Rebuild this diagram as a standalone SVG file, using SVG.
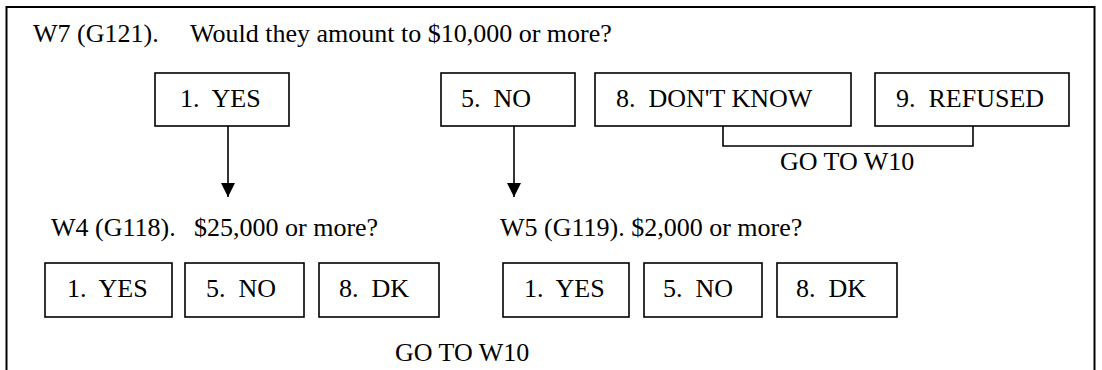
<svg xmlns="http://www.w3.org/2000/svg" width="1102" height="370" viewBox="0 0 1102 370">
<style>
text{font-family:"Liberation Serif","Times New Roman",serif;font-size:26px;fill:#000;white-space:pre}
.box{fill:#fff;stroke:#000;stroke-width:1.6}
.frame{fill:none;stroke:#000;stroke-width:2}
.conn{fill:none;stroke:#000;stroke-width:1.6}
</style>
<defs>
<marker id="ah" markerUnits="userSpaceOnUse" markerWidth="14" markerHeight="14" refX="14" refY="7" orient="auto">
<path d="M0,0 L14,7 L0,14 z" fill="#000"/>
</marker>
</defs>
<rect width="1102" height="370" fill="#fff"/>
<path class="frame" d="M6.5,380 V7 H1094.5 V380"/>
<g id="q-w7"><text x="33" y="42">W7 (G121).<tspan x="190">Would they amount to $10,000 or more?</tspan></text></g>
<g id="w7-yes"><rect class="box" x="155" y="73" width="134" height="53"/><text x="180" y="107" xml:space="preserve">1.  YES</text></g>
<g id="w7-no"><rect class="box" x="441" y="73" width="134" height="53"/><text x="461" y="107" xml:space="preserve">5.  NO</text></g>
<g id="w7-dk"><rect class="box" x="595" y="73" width="256" height="53"/><text x="616" y="107" xml:space="preserve">8.  DON'T KNOW</text></g>
<g id="w7-ref"><rect class="box" x="875" y="73" width="194" height="53"/><text x="896" y="107" xml:space="preserve">9.  REFUSED</text></g>
<g id="goto-top"><text x="780" y="170">GO TO W10</text></g>
<g id="q-w4"><text x="51" y="236">W4 (G118).<tspan x="194">$25,000 or more?</tspan></text></g>
<g id="q-w5"><text x="500" y="236">W5 (G119). $2,000 or more?</text></g>
<g id="w4-yes"><rect class="box" x="45" y="263" width="127" height="54"/><text x="67" y="297" xml:space="preserve">1.  YES</text></g>
<g id="w4-no"><rect class="box" x="185" y="263" width="119" height="54"/><text x="206" y="297" xml:space="preserve">5.  NO</text></g>
<g id="w4-dk"><rect class="box" x="319" y="263" width="120" height="54"/><text x="339" y="297" xml:space="preserve">8.  DK</text></g>
<g id="w5-yes"><rect class="box" x="503" y="263" width="126" height="54"/><text x="524" y="297" xml:space="preserve">1.  YES</text></g>
<g id="w5-no"><rect class="box" x="644" y="263" width="118" height="54"/><text x="663" y="297" xml:space="preserve">5.  NO</text></g>
<g id="w5-dk"><rect class="box" x="777" y="263" width="120" height="54"/><text x="796" y="297" xml:space="preserve">8.  DK</text></g>
<g id="goto-bottom"><text x="395" y="361">GO TO W10</text></g>
<g id="connectors">
<line class="conn" x1="228" y1="126" x2="228" y2="197" marker-end="url(#ah)"/>
<line class="conn" x1="514" y1="126" x2="514" y2="197" marker-end="url(#ah)"/>
<path class="conn" d="M723,126 V146 H973 V126"/>
</g>
</svg>
